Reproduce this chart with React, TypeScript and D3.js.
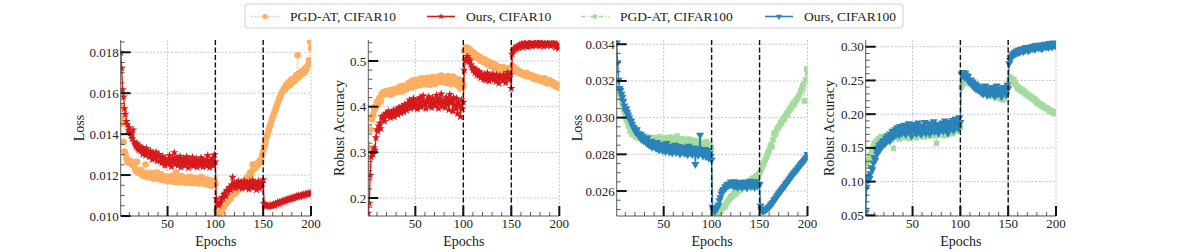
import React from 'react';
import * as d3 from 'd3';

// ── categories / ticks ───────────────────────────────────────────────────────
const EPOCHS = d3.range(1, 201);
const X_TICKS = [50, 100, 150, 200];
const PHASE_LINES = [100, 150];
const LEGEND_LABELS = ['PGD-AT, CIFAR10', 'Ours, CIFAR10', 'PGD-AT, CIFAR100', 'Ours, CIFAR100'];

// ── CIFAR10 loss (x1e-5) ─────────────────────────────────────────────────────
const LOSS10_PGD = [
  1532, 1481, 1452, 1362, 1315, 1302, 1282, 1268, 1262, 1271,
  1258, 1266, 1249, 1262, 1255, 1231, 1220, 1265, 1212, 1218,
  1209, 1225, 1201, 1214, 1196, 1210, 1252, 1203, 1190, 1205,
  1194, 1211, 1187, 1199, 1208, 1182, 1196, 1190, 1213, 1185,
  1198, 1178, 1204, 1189, 1176, 1195, 1183, 1248, 1171, 1186,
  1178, 1192, 1169, 1183, 1197, 1174, 1188, 1165, 1212, 1180,
  1172, 1190, 1166, 1181, 1195, 1168, 1177, 1186, 1162, 1179,
  1188, 1165, 1175, 1192, 1160, 1178, 1170, 1185, 1163, 1174,
  1182, 1159, 1176, 1168, 1190, 1161, 1173, 1180, 1156, 1170,
  1164, 1178, 1152, 1169, 1175, 1148, 1166, 1158, 1172, 1155,
  1024, 1015, 1006, 1012, 1021, 1018, 1030, 1038, 1045, 1055,
  1062, 1071, 1068, 1082, 1090, 1086, 1098, 1105, 1112, 1108,
  1120, 1116, 1128, 1135, 1130, 1142, 1152, 1148, 1160, 1168,
  1164, 1175, 1185, 1180, 1198, 1210, 1205, 1218, 1252, 1228,
  1240, 1236, 1255, 1248, 1262, 1258, 1275, 1268, 1296, 1318,
  1338, 1352, 1376, 1392, 1405, 1422, 1438, 1452, 1470, 1482,
  1495, 1510, 1522, 1538, 1550, 1562, 1575, 1582, 1598, 1608,
  1612, 1625, 1618, 1640, 1632, 1648, 1655, 1640, 1662, 1668,
  1655, 1672, 1660, 1680, 1690, 1785, 1676, 1698, 1688, 1705,
  1695, 1712, 1700, 1722, 1715, 1730, 1740, 1762, 1852, 1820,
];
const LOSS10_OURS = [
  1798, 1722, 1618, 1582, 1525, 1498, 1462, 1447, 1420, 1432,
  1405, 1392, 1378, 1421, 1362, 1350, 1338, 1356, 1329, 1322,
  1341, 1318, 1335, 1302, 1327, 1310, 1296, 1331, 1305, 1312,
  1289, 1318, 1300, 1276, 1308, 1295, 1283, 1312, 1270, 1290,
  1301, 1268, 1285, 1259, 1292, 1275, 1248, 1280, 1262, 1255,
  1273, 1296, 1258, 1241, 1280, 1264, 1310, 1252, 1270, 1286,
  1247, 1266, 1291, 1238, 1275, 1260, 1282, 1245, 1268, 1290,
  1257, 1235, 1279, 1262, 1250, 1288, 1244, 1266, 1253, 1281,
  1238, 1270, 1259, 1247, 1285, 1262, 1240, 1275, 1256, 1268,
  1244, 1296, 1258, 1237, 1272, 1250, 1283, 1246, 1300, 1265,
  1085, 1062, 1051, 1058, 1066, 1079, 1092, 1085, 1106, 1112,
  1098, 1125, 1118, 1132, 1140, 1127, 1152, 1190, 1145, 1158,
  1136, 1162, 1149, 1170, 1141, 1158, 1166, 1135, 1152, 1172,
  1148, 1139, 1165, 1156, 1130, 1168, 1150, 1144, 1175, 1138,
  1155, 1162, 1128, 1149, 1170, 1135, 1158, 1142, 1160, 1178,
  1062, 1055, 1050, 1047, 1052, 1045, 1049, 1054, 1048, 1053,
  1058, 1051, 1062, 1057, 1066, 1060, 1069, 1064, 1072, 1068,
  1075, 1070, 1078, 1074, 1082, 1077, 1085, 1080, 1088, 1083,
  1090, 1086, 1095, 1089, 1097, 1092, 1100, 1094, 1098, 1103,
  1099, 1106, 1101, 1108, 1104, 1110, 1106, 1113, 1109, 1112,
];

// ── CIFAR10 robust accuracy (x1e-3) ──────────────────────────────────────────
const ACC10_PGD = [
  270, 310, 350, 375, 372, 382, 392, 400, 398, 410,
  405, 416, 420, 412, 428, 425, 432, 427, 430, 434,
  428, 435, 431, 426, 437, 433, 429, 438, 434, 436,
  432, 440, 435, 444, 438, 433, 446, 441, 437, 443,
  447, 439, 452, 444, 448, 455, 442, 458, 449, 453,
  446, 456, 450, 460, 447, 454, 462, 451, 457, 449,
  458, 452, 463, 455, 448, 461, 456, 465, 453, 459,
  450, 463, 457, 466, 454, 460, 468, 455, 462, 458,
  465, 452, 461, 467, 456, 463, 449, 460, 466, 455,
  462, 451, 458, 446, 460, 453, 440, 457, 449, 445,
  522, 527, 530, 524, 528, 520, 525, 516, 521, 513,
  518, 510, 514, 507, 512, 504, 509, 500, 506, 502,
  498, 504, 496, 501, 493, 499, 491, 497, 488, 495,
  490, 486, 493, 484, 489, 482, 487, 480, 485, 487,
  481, 486, 478, 484, 480, 476, 483, 479, 485, 482,
  490, 484, 487, 480, 482, 476, 479, 474, 477, 472,
  475, 470, 473, 468, 471, 474, 466, 470, 467, 469,
  464, 468, 462, 466, 460, 465, 461, 463, 458, 462,
  457, 461, 455, 459, 462, 453, 457, 451, 455, 458,
  452, 455, 449, 453, 446, 450, 444, 448, 442, 445,
];
const ACC10_OURS = [
  167, 189, 250, 290, 300, 296, 310, 305, 332, 350,
  346, 358, 364, 352, 378, 372, 380, 368, 384, 386,
  379, 390, 383, 376, 388, 381, 392, 378, 385, 389,
  395, 382, 398, 390, 386, 401, 394, 388, 405, 397,
  392, 408, 400, 415, 396, 410, 403, 418, 398, 412,
  405, 395, 416, 402, 420, 399, 411, 424, 404, 408,
  396, 415, 409, 422, 401, 412, 398, 419, 407, 414,
  402, 425, 410, 396, 418, 406, 428, 400, 413, 409,
  398, 421, 405, 416, 393, 427, 408, 414, 390, 420,
  404, 396, 418, 385, 410, 402, 378, 415, 395, 410,
  480, 500, 506, 510, 505, 498, 502, 492, 486, 480,
  485, 474, 481, 470, 478, 468, 476, 463, 472, 466,
  460, 471, 458, 467, 474, 462, 456, 469, 461, 466,
  472, 459, 465, 455, 470, 463, 451, 468, 460, 464,
  457, 470, 462, 452, 467, 475, 460, 466, 471, 440,
  515, 522, 528, 525, 531, 527, 533, 529, 536, 532,
  538, 530, 535, 540, 533, 537, 531, 539, 534, 541,
  536, 532, 538, 535, 540, 534, 537, 542, 533, 538,
  535, 541, 536, 532, 539, 537, 534, 540, 536, 538,
  533, 539, 535, 541, 536, 530, 538, 534, 527, 531,
];

// ── CIFAR100 loss (x1e-5) ────────────────────────────────────────────────────
const LOSS100_PGD = [
  3255, 3200, 3160, 3135, 3110, 3085, 3070, 3045, 3030, 3005,
  2990, 2978, 2955, 2960, 2925, 2932, 2910, 2918, 2905, 2912,
  2895, 2930, 2902, 2888, 2915, 2896, 2882, 2905, 2890, 2878,
  2898, 2885, 2872, 2895, 2880, 2868, 2890, 2876, 2885, 2870,
  2892, 2878, 2866, 2888, 2875, 2895, 2870, 2882, 2868, 2885,
  2878, 2862, 2890, 2874, 2880, 2866, 2895, 2872, 2884, 2868,
  2888, 2870, 2878, 2900, 2865, 2882, 2874, 2860, 2886, 2872,
  2868, 2880, 2862, 2875, 2858, 2884, 2870, 2864, 2878, 2855,
  2872, 2860, 2876, 2850, 2868, 2858, 2874, 2846, 2862, 2855,
  2865, 2848, 2858, 2842, 2870, 2850, 2838, 2856, 2845, 2835,
  2510, 2485, 2470, 2465, 2462, 2470, 2475, 2482, 2490, 2498,
  2505, 2512, 2520, 2515, 2530, 2538, 2545, 2552, 2560, 2568,
  2575, 2570, 2585, 2590, 2582, 2596, 2602, 2598, 2610, 2605,
  2615, 2622, 2618, 2630, 2625, 2638, 2645, 2640, 2652, 2648,
  2658, 2665, 2660, 2672, 2668, 2678, 2685, 2680, 2692, 2700,
  2708, 2722, 2735, 2745, 2760, 2772, 2785, 2798, 2810, 2822,
  2838, 2852, 2840, 2880, 2915, 2905, 2918, 2935, 2942, 2950,
  2958, 2975, 2968, 2985, 3000, 2992, 3010, 3022, 3015, 3035,
  3042, 3055, 3048, 3065, 3078, 3070, 3086, 3095, 3100, 3108,
  3118, 3130, 3145, 3158, 3172, 3180, 3090, 3205, 3265, 3240,
];
const LOSS100_OURS = [
  3407, 3300, 3205, 3160, 3150, 3128, 3112, 3090, 3065, 3040,
  3050, 3030, 3015, 3000, 2985, 2980, 2965, 2950, 2945, 2932,
  2920, 2935, 2912, 2905, 2895, 2910, 2880, 2898, 2875, 2885,
  2870, 2862, 2890, 2855, 2868, 2848, 2872, 2840, 2858, 2845,
  2850, 2832, 2866, 2838, 2825, 2855, 2830, 2842, 2820, 2848,
  2835, 2815, 2860, 2828, 2840, 2812, 2845, 2822, 2808, 2838,
  2825, 2850, 2810, 2832, 2818, 2842, 2802, 2826, 2835, 2812,
  2840, 2806, 2822, 2830, 2798, 2845, 2815, 2808, 2828, 2800,
  2818, 2835, 2745, 2812, 2825, 2796, 2830, 2905, 2805, 2820,
  2792, 2815, 2828, 2788, 2810, 2822, 2780, 2805, 2790, 2770,
  2513, 2500, 2490, 2495, 2502, 2510, 2525, 2548, 2565, 2585,
  2598, 2610, 2605, 2625, 2618, 2635, 2628, 2640, 2632, 2650,
  2636, 2645, 2625, 2652, 2630, 2642, 2620, 2648, 2634, 2628,
  2645, 2622, 2638, 2650, 2628, 2640, 2618, 2646, 2632, 2655,
  2626, 2642, 2630, 2648, 2620, 2638, 2652, 2628, 2640, 2635,
  2520, 2500, 2490, 2494, 2498, 2496, 2502, 2505, 2510, 2512,
  2520, 2526, 2532, 2538, 2548, 2555, 2562, 2570, 2578, 2585,
  2592, 2598, 2606, 2612, 2620, 2626, 2634, 2642, 2648, 2656,
  2662, 2670, 2678, 2684, 2692, 2698, 2704, 2712, 2716, 2722,
  2730, 2736, 2744, 2750, 2756, 2762, 2770, 2776, 2785, 2800,
];

// ── CIFAR100 robust accuracy (x1e-3) ─────────────────────────────────────────
const ACC100_PGD = [
  58, 107, 127, 131, 135, 140, 147, 144, 152, 157,
  154, 160, 156, 163, 164, 159, 167, 162, 165, 166,
  161, 168, 164, 170, 163, 167, 171, 162, 169, 149,
  166, 172, 165, 169, 174, 163, 170, 167, 173, 169,
  165, 172, 168, 175, 166, 171, 164, 173, 169, 171,
  174, 167, 172, 165, 176, 170, 168, 174, 171, 170,
  173, 166, 175, 169, 172, 177, 167, 174, 170, 171,
  176, 168, 173, 170, 157, 174, 169, 178, 172, 173,
  170, 177, 168, 175, 172, 179, 170, 176, 173, 176,
  178, 171, 180, 174, 177, 182, 175, 179, 184, 181,
  240, 243, 245, 248, 250, 247, 252, 249, 246, 248,
  245, 249, 243, 246, 241, 244, 238, 242, 239, 240,
  236, 240, 234, 238, 232, 236, 230, 234, 231, 232,
  229, 233, 227, 231, 226, 230, 224, 229, 225, 228,
  224, 227, 222, 226, 221, 225, 228, 232, 240, 245,
  252, 255, 250, 253, 248, 251, 246, 244, 241, 238,
  240, 236, 238, 234, 236, 232, 234, 230, 231, 228,
  229, 226, 227, 224, 225, 222, 223, 220, 221, 216,
  218, 215, 216, 213, 214, 211, 212, 209, 210, 208,
  209, 206, 207, 204, 205, 203, 204, 201, 203, 203,
];
const ACC100_OURS = [
  55, 92, 107, 103, 105, 112, 121, 118, 128, 136,
  132, 147, 141, 150, 154, 148, 157, 152, 160, 161,
  156, 165, 159, 168, 166, 160, 171, 164, 175, 173,
  168, 177, 170, 180, 174, 169, 182, 176, 172, 179,
  184, 175, 170, 181, 177, 186, 173, 180, 168, 181,
  185, 176, 182, 171, 179, 187, 174, 180, 170, 178,
  183, 175, 188, 172, 180, 177, 186, 171, 182, 183,
  176, 189, 174, 181, 178, 185, 172, 184, 179, 183,
  187, 175, 182, 190, 178, 184, 172, 188, 181, 186,
  180, 191, 176, 185, 193, 182, 188, 179, 195, 188,
  260, 258, 262, 255, 261, 258, 252, 256, 249, 247,
  251, 244, 248, 240, 245, 238, 243, 236, 241, 235,
  239, 232, 237, 230, 236, 242, 233, 228, 238, 232,
  229, 236, 240, 231, 237, 227, 234, 242, 230, 235,
  238, 231, 226, 236, 240, 233, 239, 229, 243, 238,
  275, 280, 284, 287, 290, 288, 292, 290, 294, 291,
  295, 292, 296, 294, 297, 293, 298, 295, 299, 297,
  294, 299, 296, 300, 297, 301, 298, 296, 302, 299,
  301, 298, 303, 300, 297, 302, 299, 304, 301, 300,
  303, 299, 305, 301, 304, 300, 306, 302, 305, 301,
];

// ── styles ───────────────────────────────────────────────────────────────────
const STYLES = [
  { color: '#fdae61', dash: '1.2,2.2', width: 1, symbol: d3.symbolCircle, size: 34, rotate: 0 },
  { color: '#d7191c', dash: null, width: 1.3, symbol: d3.symbolStar, size: 22, rotate: 0 },
  { color: '#a6dba0', dash: '4,2,1,2', width: 1, symbol: d3.symbolSquare, size: 30, rotate: 0 },
  { color: '#2b83ba', dash: null, width: 1.3, symbol: d3.symbolTriangle, size: 28, rotate: 180 },
];

const TOP = 40, BOTTOM = 216;
const FONT = '"Liberation Serif", "DejaVu Serif", serif';

const PANELS = [
  { left: 120.7, right: 311, domain: [0.010, 0.0186], ticks: [0.010, 0.012, 0.014, 0.016, 0.018], minor: 0.0005, fmt: '.3f',
    label: 'Loss', labelX: 79, series: [[LOSS10_PGD, 1e5, 0], [LOSS10_OURS, 1e5, 1]] },
  { left: 368.3, right: 559.3, domain: [0.1606, 0.546], ticks: [0.2, 0.3, 0.4, 0.5], minor: 0.02, fmt: '.1f',
    label: 'Robust Accuracy', labelX: 339, series: [[ACC10_PGD, 1e3, 0], [ACC10_OURS, 1e3, 1]] },
  { left: 616.7, right: 807.5, domain: [0.02464, 0.03423], ticks: [0.026, 0.028, 0.030, 0.032, 0.034], minor: 0.0005, fmt: '.3f',
    label: 'Loss', labelX: 577, series: [[LOSS100_PGD, 1e5, 2], [LOSS100_OURS, 1e5, 3]] },
  { left: 865.7, right: 1056, domain: [0.049, 0.31], ticks: [0.05, 0.10, 0.15, 0.20, 0.25, 0.30], minor: 0.01, fmt: '.2f',
    label: 'Robust Accuracy', labelX: 829, series: [[ACC100_PGD, 1e3, 2], [ACC100_OURS, 1e3, 3]] },
];

function marker(s, size = s.size) {
  return d3.symbol().type(s.symbol).size(size)();
}

function Panel({ p, idx }) {
  const x = d3.scaleLinear().domain([1, 200]).range([p.left, p.right]);
  const y = d3.scaleLinear().domain(p.domain).range([BOTTOM, TOP]);
  const fmt = d3.format(p.fmt);
  const clipId = `clip-${idx}`;

  const yMinor = d3.range(Math.ceil(p.domain[0] / p.minor) * p.minor, p.domain[1], p.minor)
    .filter(v => !p.ticks.some(t => Math.abs(t - v) < p.minor / 10));
  const xMinor = d3.range(10, 200, 10).filter(v => v % 50 !== 0);

  const line = d3.line<number>().x((_, i) => x(EPOCHS[i])).y(d => y(d));

  return (
    <g>
      <defs>
        <clipPath id={clipId}>
          <rect x={p.left} y={TOP} width={p.right - p.left} height={BOTTOM - TOP} />
        </clipPath>
      </defs>

      {/* grid */}
      {p.ticks.map(t => (
        <line key={'gy' + t} x1={p.left} x2={p.right} y1={y(t)} y2={y(t)}
          stroke="#b8b8b8" strokeWidth={0.8} strokeDasharray="2,1.6" />
      ))}
      {X_TICKS.map(t => (
        <line key={'gx' + t} x1={x(t)} x2={x(t)} y1={TOP} y2={BOTTOM}
          stroke="#b8b8b8" strokeWidth={0.8} strokeDasharray="2,1.6" />
      ))}

      {/* series */}
      <g clipPath={`url(#${clipId})`}>
        {p.series.map(([vals, div, si]) => {
          const s = STYLES[si];
          const data = vals.map(v => v / div);
          const path = marker(s);
          return (
            <g key={si}>
              <path d={line(data) || ''} fill="none" stroke={s.color} strokeWidth={s.width}
                strokeDasharray={s.dash || undefined} />
              {data.map((d, i) => (
                <path key={i} d={path} fill={s.color}
                  transform={`translate(${x(EPOCHS[i])},${y(d)}) rotate(${s.rotate})`} />
              ))}
            </g>
          );
        })}
      </g>

      {/* phase boundaries */}
      {PHASE_LINES.map(t => (
        <line key={'ph' + t} x1={x(t)} x2={x(t)} y1={TOP} y2={BOTTOM}
          stroke="#111" strokeWidth={1.4} strokeDasharray="5,2.5" />
      ))}

      {/* spines */}
      <line x1={p.left} x2={p.left} y1={TOP} y2={BOTTOM} stroke="#333" strokeWidth={0.8} />
      <line x1={p.left} x2={p.right} y1={BOTTOM} y2={BOTTOM} stroke="#333" strokeWidth={0.8} />

      {/* ticks */}
      {p.ticks.map(t => (
        <g key={'ty' + t}>
          <line x1={p.left} x2={p.left + 10} y1={y(t)} y2={y(t)} stroke="#111" strokeWidth={2} />
          <text x={p.left - 2} y={y(t)} dy="0.35em" textAnchor="end" fontSize={13} fill="#222">{fmt(t)}</text>
        </g>
      ))}
      {yMinor.map(t => (
        <line key={'my' + t} x1={p.left} x2={p.left + 4} y1={y(t)} y2={y(t)} stroke="#333" strokeWidth={0.8} />
      ))}
      {X_TICKS.map(t => (
        <g key={'tx' + t}>
          <line x1={x(t)} x2={x(t)} y1={BOTTOM} y2={BOTTOM - 10} stroke="#111" strokeWidth={2} />
          <text x={x(t)} y={228} textAnchor="middle" fontSize={13} fill="#222">{t}</text>
        </g>
      ))}
      {xMinor.map(t => (
        <line key={'mx' + t} x1={x(t)} x2={x(t)} y1={BOTTOM} y2={BOTTOM - 4} stroke="#333" strokeWidth={0.8} />
      ))}

      {/* labels */}
      <text x={(p.left + p.right) / 2} y={246} textAnchor="middle" fontSize={14} fill="#222">Epochs</text>
      <text transform={`translate(${p.labelX},${(TOP + BOTTOM) / 2}) rotate(-90)`} dy="0.35em"
        textAnchor="middle" fontSize={14} fill="#222">{p.label}</text>
    </g>
  );
}

const LEGEND_TEXT_X = [290, 466, 620, 804];

function Legend() {
  const cy = 16.5;
  return (
    <g>
      <rect x={245} y={4} width={658} height={24} rx={3} fill="#fff" stroke="#d0d0d0" strokeWidth={1} />
      {LEGEND_LABELS.map((lab, i) => {
        const s = STYLES[i];
        const tx = LEGEND_TEXT_X[i];
        const x0 = tx - 39, x1 = tx - 11;
        return (
          <g key={lab}>
            <line x1={x0} x2={x1} y1={cy} y2={cy} stroke={s.color} strokeWidth={s.width + 0.3}
              strokeDasharray={s.dash || undefined} />
            <path d={marker(s, s.size * 0.6)} fill={s.color}
              transform={`translate(${(x0 + x1) / 2},${cy}) rotate(${s.rotate})`} />
            <text x={tx} y={cy} dy="0.35em" fontSize={13.5} fill="#222">{lab}</text>
          </g>
        );
      })}
    </g>
  );
}

export default function App() {
  return (
    <svg width={1177} height={252} viewBox="0 0 1177 252"
      style={{ position: 'absolute', left: 0, top: 0, background: '#fff', fontFamily: FONT }}>
      {PANELS.map((p, i) => <Panel key={i} p={p} idx={i} />)}
      <Legend />
    </svg>
  );
}
